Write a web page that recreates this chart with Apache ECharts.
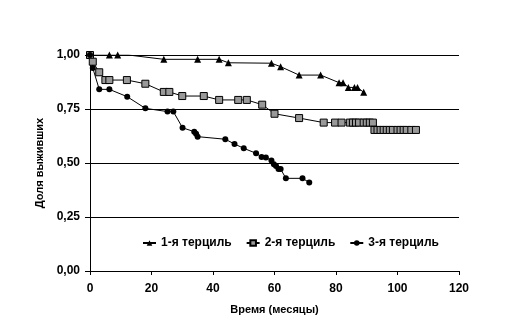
<!DOCTYPE html>
<html><head><meta charset="utf-8">
<script src="https://cdn.jsdelivr.net/npm/echarts@6/dist/echarts.min.js"></script>
<style>html,body{margin:0;padding:0;background:#fff}#c{width:519px;height:322px}</style>
</head><body><div id="c"></div>
<script>
var seriesNames = ['1-я терциль', '2-я терциль', '3-я терциль'];
var xTicks = [0, 20, 40, 60, 80, 100, 120];
var yTicks = [0, 0.25, 0.5, 0.75, 1];

var t1 = [0, 6.3, 9, 12.5, 24, 35, 42, 45, 59, 62, 68, 75, 81, 82.3, 84, 86, 87, 89];
var s1 = [1, 1, 1, 1, 0.98, 0.98, 0.98, 0.964, 0.962, 0.946, 0.907, 0.907, 0.872, 0.872, 0.85, 0.85, 0.85, 0.827];
var hidden1 = [3];

var t2 = [0, 0.9, 3, 5, 6.3, 12, 18, 24, 25.8, 30, 37, 42, 48.2, 51, 56, 60, 68, 76, 79.7, 81.8,
  84.5, 85.5, 86.5, 87.5, 89, 90, 91, 92,
  92.5, 93.5, 94.5, 95.5, 96.5, 97.5, 98.5, 100, 101, 102, 103, 104.5, 106];
var s2 = [1, 0.969, 0.92, 0.884, 0.884, 0.884, 0.867, 0.829, 0.829, 0.81, 0.81, 0.792, 0.792, 0.792, 0.77, 0.728, 0.708, 0.687, 0.687, 0.687,
  0.687, 0.687, 0.687, 0.687, 0.687, 0.687, 0.687, 0.687,
  0.653, 0.653, 0.653, 0.653, 0.653, 0.653, 0.653, 0.653, 0.653, 0.653, 0.653, 0.653, 0.653];

var t3 = [0, 0.9, 3, 6.3, 12.1, 18, 25.2, 27.1, 30.1, 33.9, 34.5, 35, 44, 47, 50, 54, 55.8, 57.2, 59, 59.8, 60.5, 61.3, 62, 63.7, 69.1, 71.3];
var s3 = [1, 0.94, 0.841, 0.841, 0.807, 0.753, 0.738, 0.738, 0.663, 0.645, 0.635, 0.622, 0.61, 0.588, 0.568, 0.545, 0.528, 0.526, 0.511, 0.494, 0.486, 0.472, 0.472, 0.429, 0.429, 0.41];

function pts(t, s, hidden) {
  return t.map(function (x, i) {
    var d = { value: [x, s[i]] };
    if (hidden && hidden.indexOf(i) >= 0) d.symbol = 'none';
    return d;
  });
}

var font = 'Liberation Sans, Arial, sans-serif';
var chart = echarts.init(document.getElementById('c'), null, { renderer: 'canvas' });
chart.setOption({
  animation: false,
  backgroundColor: '#fff',
  textStyle: { fontFamily: font, fontWeight: 'bold', color: '#000' },
  grid: { left: 90, right: 60, top: 55, bottom: 51 },
  legend: {
    left: 137, top: 232, itemGap: 14, itemWidth: 13, itemHeight: 7,
    textStyle: { fontFamily: font, fontWeight: 'bold', fontSize: 12, color: '#000' },
    data: seriesNames
  },
  xAxis: {
    type: 'value', min: xTicks[0], max: xTicks[xTicks.length - 1], interval: 20,
    name: 'Время (месяцы)', nameLocation: 'middle', nameGap: 33,
    nameTextStyle: { fontFamily: font, fontWeight: 'bold', fontSize: 11, color: '#000' },
    axisLine: { lineStyle: { color: '#000', width: 1 } },
    axisTick: { show: true, inside: false, length: 4, lineStyle: { color: '#000' } },
    axisLabel: { fontFamily: font, fontWeight: 'bold', fontSize: 12, color: '#000', margin: 12 },
    splitLine: { show: false }
  },
  yAxis: {
    type: 'value', min: yTicks[0], max: yTicks[yTicks.length - 1], interval: 0.25,
    name: 'Доля выживших', nameLocation: 'middle', nameGap: 45, nameRotate: 90,
    nameTextStyle: { fontFamily: font, fontWeight: 'bold', fontSize: 11, color: '#000' },
    axisLine: { show: true, lineStyle: { color: '#000', width: 1 } },
    axisTick: { show: true, inside: false, length: 5, lineStyle: { color: '#000' } },
    axisLabel: { fontFamily: font, fontWeight: 'bold', fontSize: 12, color: '#000', margin: 10,
      formatter: function (v) { return v.toFixed(2).replace('.', ','); } },
    splitLine: { show: true, lineStyle: { color: '#000', width: 1 } }
  },
  series: [
    { name: seriesNames[0], type: 'line', data: pts(t1, s1, hidden1), symbol: 'triangle', symbolSize: 7,
      lineStyle: { color: '#000', width: 1 }, itemStyle: { color: '#000' } },
    { name: seriesNames[1], type: 'line', data: pts(t2, s2), symbol: 'rect', symbolSize: 7,
      lineStyle: { color: '#000', width: 1 }, itemStyle: { color: '#999', borderColor: '#000', borderWidth: 1 } },
    { name: seriesNames[2], type: 'line', data: pts(t3, s3), symbol: 'circle', symbolSize: 6,
      lineStyle: { color: '#000', width: 1 }, itemStyle: { color: '#000' } }
  ]
});
</script></body></html>
